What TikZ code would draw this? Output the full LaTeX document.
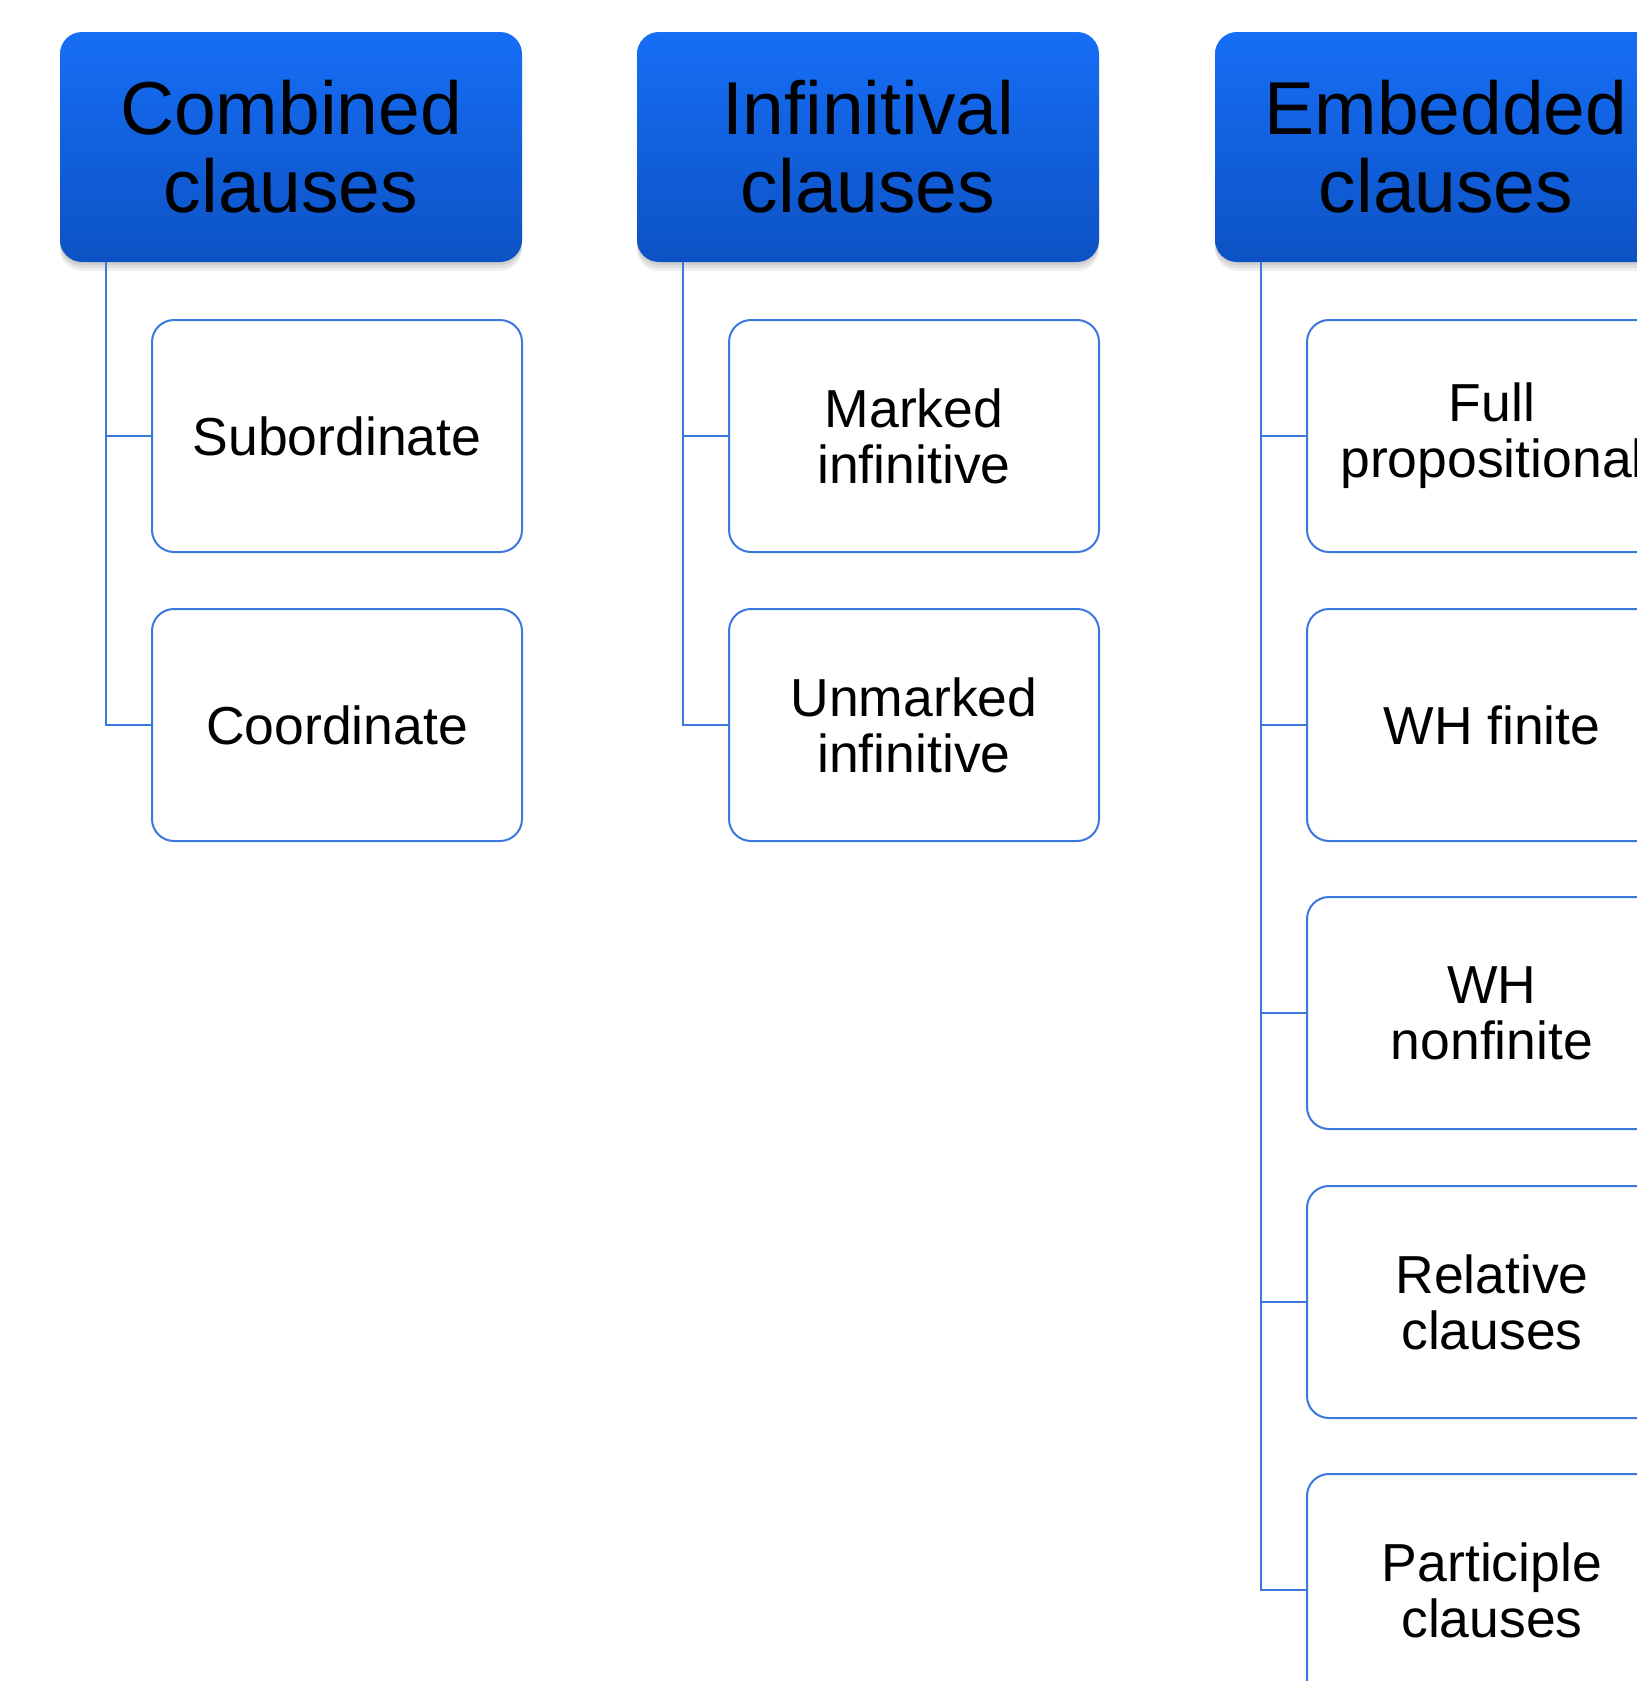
\documentclass[tikz,border=0pt]{standalone}
\usepackage{fontspec}
\setmainfont{Liberation Sans}
\definecolor{hdrtop}{RGB}{22,110,246}
\definecolor{hdrbot}{RGB}{13,82,196}
\definecolor{lineblue}{RGB}{58,120,222}
\begin{document}
\begin{tikzpicture}[x=1pt,y=-1pt,
  hdrbox/.style={rounded corners=22pt, minimum width=462pt, minimum height=230pt,
    inner sep=0pt, align=center, top color=hdrtop, bottom color=hdrbot,
    font=\fontsize{75}{78}\selectfont, text=black,
    preaction={fill=black,opacity=.07,transform canvas={yshift=-3pt}},
    preaction={fill=black,opacity=.07,transform canvas={yshift=-6pt}},
    preaction={fill=black,opacity=.06,transform canvas={yshift=-9pt}}},
  childbox/.style={draw=lineblue, line width=2pt, rounded corners=22pt, fill=white,
    minimum width=370pt, minimum height=232pt, inner sep=0pt, align=center,
    font=\fontsize{53.5}{56}\selectfont, text=black},
  conn/.style={draw=lineblue, line width=2pt}
]
\clip (0,0) rectangle (1637,1681);
\fill[white] (0,0) rectangle (1637,1681);

% headers
\node[hdrbox] (h1) at (291,147) {Combined\\clauses};
\node[hdrbox] (h2) at (868,147) {Infinitival\\clauses};
\node[hdrbox] (h3) at (1446,147) {Embedded\\clauses};

% trunk start points
\coordinate (t1) at (106,262);
\coordinate (t2) at (683,262);
\coordinate (t3) at (1261,262);

% column 1
\node[childbox] (c11) at (337,436) {Subordinate};
\node[childbox] (c12) at (337,725) {Coordinate};
% column 2
\node[childbox] (c21) at (914,436) {Marked\\infinitive};
\node[childbox] (c22) at (914,725) {Unmarked\\infinitive};
% column 3
\node[childbox] (c31) at (1492,436) {Full\\propositional};
\node[childbox] (c32) at (1492,725) {WH finite};
\node[childbox] (c33) at (1492,1013) {WH\\nonfinite};
\node[childbox] (c34) at (1492,1302) {Relative\\clauses};
\node[childbox] (c35) at (1492,1590) {Participle\\clauses};

% connectors
\draw[conn] (t1) |- (c11.west);
\draw[conn] (t1) |- (c12.west);
\draw[conn] (t2) |- (c21.west);
\draw[conn] (t2) |- (c22.west);
\foreach \c in {c31,c32,c33,c34,c35} \draw[conn] (t3) |- (\c.west);
\end{tikzpicture}
\end{document}
